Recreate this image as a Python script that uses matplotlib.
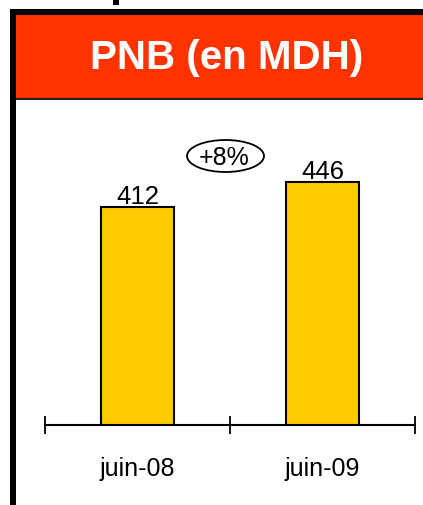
import matplotlib
matplotlib.use("Agg")
import matplotlib.pyplot as plt
from matplotlib.patches import Rectangle, Ellipse

plt.rcParams['font.family'] = ['Liberation Sans', 'DejaVu Sans']

# Données du graphique
periodes = ["juin-08", "juin-09"]
pnb = [412, 446]
titre = "PNB (en MDH)"
variation = "+8%"

W, H = 423, 506
fig = plt.figure(figsize=(W / 100, H / 100), dpi=100)

# Fond en coordonnées pixel pour les éléments de décor
bg = fig.add_axes([0, 0, 1, 1])
bg.set_xlim(0, W)
bg.set_ylim(H, 0)
bg.axis("off")

# Cadre noir (haut et gauche) et bandeau rouge
bg.add_patch(Rectangle((10, 10), W - 10, 6, color="black", lw=0))
bg.add_patch(Rectangle((10, 10), 6, H - 10, color="black", lw=0))
bg.add_patch(Rectangle((16, 16), W - 16, 83, color="#FF3300", lw=0))
bg.add_patch(Rectangle((16, 99), W - 16, 2, color="#222222", lw=0))
bg.text(227, 58, titre, color="white", fontsize=29, fontweight="bold",
        ha="center", va="center")
# Morceau de lettre coupé en haut
bg.add_patch(Rectangle((113, 0), 6, 6, color="black", lw=0))

# Bulle de variation
bg.add_patch(Ellipse((225.5, 157), 77, 32, fill=False, ec="black", lw=1.3))
bg.text(224.5, 157.5, variation, fontsize=18, ha="center", va="center")

# Axe du graphique
ax = fig.add_axes([45 / W, (H - 426) / H, 370 / W, 326 / H])
ax.patch.set_alpha(0)
x = range(len(periodes))
ax.bar(x, pnb, width=0.395, color="#FFCC00", edgecolor="black", linewidth=1.5,
       zorder=3)
for xi, v in zip(x, pnb):
    ax.annotate(str(v), (xi, v), xytext=(0, 3), textcoords="offset points",
                ha="center", va="baseline", fontsize=18.5)

ax.set_xlim(-0.5, 1.5)
ax.set_ylim(115, 559)
for s in ["top", "right", "left"]:
    ax.spines[s].set_visible(False)
ax.spines["bottom"].set_linewidth(1.5)
ax.spines["bottom"].set_zorder(4)
ax.set_yticks([])
ax.set_xticks([-0.5, 0.5, 1.5])
ax.set_xticklabels([])
ax.tick_params(axis="x", which="major", direction="inout", length=13, width=1.3)
ax.set_xticks(list(x), minor=True)
ax.set_xticklabels(periodes, minor=True, fontsize=18)
ax.tick_params(axis="x", which="minor", length=0, pad=22)

fig.savefig("out.png", dpi=100)
